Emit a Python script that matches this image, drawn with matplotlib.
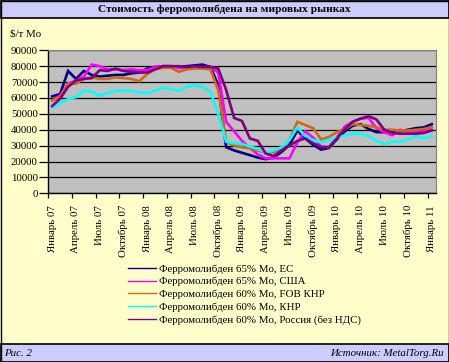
import matplotlib
matplotlib.use("Agg")
import matplotlib.pyplot as plt
from matplotlib.patches import Rectangle
from matplotlib.lines import Line2D

plt.rcParams['font.family'] = ['Liberation Serif', 'DejaVu Serif']

# monthly prices, $/t Mo, January 2007 .. January 2011
eu = [61000, 62500, 77000, 72000, 77000, 74500, 73500, 74000, 74500, 74500,
      75500, 76000, 78500, 79500, 80000, 80000, 79500, 80000, 80500, 81000,
      79500, 68000, 29000, 27000, 25500, 24000, 22500, 21500, 22500, 26000,
      30500, 39500, 34500, 30500, 27500, 28500, 34000, 39000, 42500, 43500,
      40500, 38500, 38500, 38500, 39000, 40000, 41000, 41500, 43500]
usa = [58500, 61500, 69000, 71000, 73500, 81000, 80000, 78000, 78000, 77500,
       78000, 77500, 77500, 79500, 80000, 80000, 79000, 79000, 79500, 79500,
       79500, 76000, 45000, 39000, 33000, 28500, 24500, 22000, 22000, 22000,
       22000, 32000, 39000, 35000, 29500, 29000, 35000, 42000, 45000, 47000,
       47500, 41000, 38500, 36500, 40000, 38500, 38500, 39000, 40000]
fob_china = [58500, 60500, 69000, 69000, 72000, 73000, 72000, 72000, 73000, 72500,
             72000, 70500, 75000, 78000, 79000, 79000, 76500, 78000, 78500, 78500,
             78000, 65000, 32500, 30000, 29000, 28300, 27000, 25500, 26000, 28300,
             33500, 45000, 43000, 41000, 34000, 35500, 38500, 40500, 43500, 43000,
             42500, 41500, 40000, 40000, 39500, 39500, 40000, 40500, 41500]
china = [54000, 56500, 59500, 60500, 64500, 64000, 61500, 63000, 64500, 64500,
         64500, 63500, 63000, 64500, 66500, 65500, 64500, 67000, 68000, 67000,
         64000, 50000, 32500, 31500, 31000, 29500, 28000, 25500, 27000, 29000,
         33500, 41500, 36000, 33500, 32000, 33500, 35000, 36500, 37500, 37500,
         36000, 33000, 31000, 32500, 32500, 34000, 36000, 34500, 36000]
russia = [55000, 59500, 67000, 71000, 72000, 72500, 77500, 77000, 78500, 77000,
          76500, 76000, 76000, 78000, 80000, 80000, 80000, 79500, 80000, 79500,
          79500, 78500, 65000, 47500, 45500, 34500, 33000, 25000, 23500, 27000,
          30000, 33000, 34500, 31500, 29000, 29000, 34500, 40500, 45000, 47000,
          48500, 46500, 40000, 38000, 37500, 37500, 37500, 38000, 39500]

series_names = ['Ферромолибден 65% Mo, ЕС',
                'Ферромолибден 65% Mo, США',
                'Ферромолибден 60% Mo, FOB КНР',
                'Ферромолибден 60% Mo, КНР',
                'Ферромолибден 60% Mo, Россия (без НДС)']
colors = ['#000080', '#FF00FF', '#D06A10', '#00FFFF', '#800080']

month_names = ['Январь', 'Апрель', 'Июль', 'Октябрь']
years = ['07', '08', '09', '10', '11']
tick_labels = []
for y in years:
    for m in month_names:
        tick_labels.append(m + ' ' + y)
tick_labels = tick_labels[:17]

W, H = 449, 362
fig = plt.figure(figsize=(W / 100, H / 100), dpi=100)
fig.patch.set_facecolor('#FFFFCC')

def px(x, y):
    # pixel coords (top-left origin) -> figure fraction
    return x / W, 1 - y / H

# title band and footer band
fig.patches.append(Rectangle(px(0.5, 18)[::1], (W - 1) / W, 17.5 / H, transform=fig.transFigure,
                             facecolor='#CCCCFF', edgecolor='black', lw=1.2))
fig.patches.append(Rectangle((0.5 / W, 0.5 / H), (W - 1) / W, 17.5 / H, transform=fig.transFigure,
                             facecolor='#CCCCFF', edgecolor='black', lw=1.2))
fig.patches.append(Rectangle((0.5 / W, 0.5 / H), (W - 1) / W, (H - 1) / H, transform=fig.transFigure,
                             facecolor='none', edgecolor='black', lw=1.0))

fig.text(*px(224, 9.5), 'Стоимость ферромолибдена на мировых рынках', ha='center', va='center',
         fontsize=8.2, fontweight='bold')
fig.text(*px(4, 353), 'Рис. 2', ha='left', va='center', fontsize=7.8, style='italic')
fig.text(*px(444, 353), 'Источник: MetalTorg.Ru', ha='right', va='center', fontsize=7.8, style='italic')
fig.text(*px(10, 34), r'\$/т Mo', ha='left', va='center', fontsize=7.8)

left, top, right, bottom = 48.3, 50.3, 435.7, 193.3
ax = fig.add_axes([left / W, 1 - bottom / H, (right - left) / W, (bottom - top) / H])
ax.set_facecolor('#C0C0C0')

x = list(range(len(eu)))
all_series = [eu, usa, fob_china, china, russia]
for vals, c, name in zip(all_series, colors, series_names):
    ax.plot(x, vals, color=c, lw=1.9, label=name, solid_joinstyle='miter')

ax.set_xlim(-0.5, len(eu) - 0.5)
ax.set_ylim(0, 90000)
ax.set_yticks(range(0, 90001, 10000))
ax.yaxis.grid(True, color='black', lw=0.9)
ax.set_axisbelow(True)
ax.tick_params(axis='y', direction='out', length=6.5, width=0.9, labelsize=7.8, pad=1)

ax.set_xticks([b - 0.5 for b in range(0, 49, 3)])
ax.set_xticklabels([])
ax.set_xticks(list(range(0, 49, 3)), minor=True)
ax.set_xticklabels(tick_labels, minor=True, rotation=90, va='top', ha='center', fontsize=7.8)
ax.tick_params(axis='x', which='major', direction='out', length=3.5, width=0.9)
ax.tick_params(axis='x', which='minor', length=0, pad=8.5)

for s in ['top', 'right']:
    ax.spines[s].set_color('#808080')
for s in ['left', 'bottom']:
    ax.spines[s].set_color('black')
    ax.spines[s].set_linewidth(1.0)

handles = [Line2D([], [], color=c, lw=1.0) for c in colors]
fig.legend(handles, series_names, loc='upper left', bbox_to_anchor=px(128, 264),
           frameon=False, fontsize=7.8, handlelength=2.6, handletextpad=0.3,
           labelspacing=0.3, borderpad=0, borderaxespad=0)

fig.savefig('out.png', dpi=100, facecolor=fig.get_facecolor())
